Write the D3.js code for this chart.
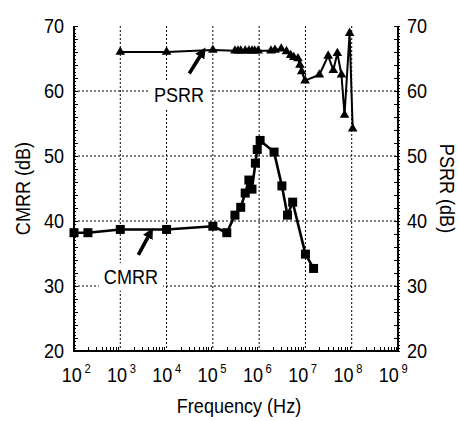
<!DOCTYPE html>
<html><head><meta charset="utf-8">
<script src="https://cdn.jsdelivr.net/npm/d3@7"></script>
<style>
html,body{margin:0;padding:0;background:#fff;}
svg{display:block;font-family:"Liberation Sans",Arial,sans-serif;}
</style></head>
<body><svg id="c" width="459" height="421"></svg>
<script>
// ---- data ----
const cmrrFreq = [1e2, 2e2, 1e3, 1e4, 1e5, 2e5, 3e5, 4e5, 5e5, 6e5, 7e5, 8.3e5, 9.1e5, 1.05e6, 2.1e6, 3.1e6, 4.1e6, 5.3e6, 1e7, 1.5e7];
const cmrrDb   = [38.2, 38.2, 38.7, 38.7, 39.2, 38.2, 40.9, 42.1, 44.3, 46.3, 44.9, 48.9, 51.0, 52.4, 50.6, 45.4, 40.9, 42.9, 34.9, 32.7];
const psrrFreq = [1e3, 1e4, 1e5, 3e5, 3.5e5, 4e5, 5e5, 6e5, 7e5, 8e5, 9.5e5, 1.8e6, 2.2e6, 3e6, 3.9e6, 4.8e6, 5.6e6, 6.9e6, 7.6e6, 8.3e6, 9.8e6, 2e7, 3.1e7, 4e7, 4.9e7, 6e7, 7e7, 9e7, 1.05e8];
const psrrDb   = [66.0, 66.0, 66.3, 66.2, 66.2, 66.2, 66.2, 66.2, 66.2, 66.2, 66.2, 66.2, 66.3, 66.5, 66.1, 65.5, 65.2, 65.0, 64.0, 63.0, 61.6, 62.5, 65.4, 63.2, 65.8, 62.5, 56.3, 68.9, 54.2];
const xTickExps = [2, 3, 4, 5, 6, 7, 8, 9];
const yTicks = [20, 30, 40, 50, 60, 70];
const xLabel = "Frequency (Hz)";
const yLabelLeft = "CMRR (dB)";
const yLabelRight = "PSRR (dB)";
// annotations in data space: [freq, dB]
const psrrText = [Math.pow(10, 4.27), 59.5];
const psrrArrow = [[Math.pow(10, 4.49), 62.7], [Math.pow(10, 4.78), 66.0]];
const cmrrText = [Math.pow(10, 3.23), 31.4];
const cmrrArrow = [[Math.pow(10, 3.39), 34.8], [Math.pow(10, 3.65), 38.2]];

// ---- layout ----
const L = 74, R = 398, T = 26, B = 351;
const svg = d3.select("#c");
const x = d3.scaleLog().domain([1e2, 1e9]).range([L, R]);
const y = d3.scaleLinear().domain([20, 70]).range([B, T]);
const FS = 21, SX = 0.86;

function txt(px, py, str, anchor, rot) {
  const t = svg.append("text")
    .attr("transform", `translate(${px},${py})` + (rot ? ` rotate(${rot})` : "") + ` scale(${SX},1)`)
    .attr("text-anchor", anchor).attr("font-size", FS).text(str);
  return t;
}

// gridlines
const g = svg.append("g").attr("stroke", "#000").attr("stroke-width", 1).attr("stroke-dasharray", "2,2");
xTickExps.filter(e => e > 2 && e < 9).forEach(e => {
  g.append("line").attr("x1", x(Math.pow(10, e))).attr("x2", x(Math.pow(10, e))).attr("y1", T).attr("y2", B);
});
yTicks.filter(v => v > 20 && v < 70).forEach(v => {
  g.append("line").attr("x1", L).attr("x2", R).attr("y1", y(v)).attr("y2", y(v));
});

// axes lines and ticks
const ax = svg.append("g").attr("stroke", "#000").attr("stroke-width", 1.2).attr("shape-rendering", "crispEdges");
ax.append("line").attr("x1", L).attr("x2", L).attr("y1", T).attr("y2", B);
ax.append("line").attr("x1", R).attr("x2", R).attr("y1", T).attr("y2", B);
ax.append("line").attr("x1", L).attr("x2", R).attr("y1", B).attr("y2", B);
const tk = svg.append("g").attr("stroke", "#000").attr("stroke-width", 1).attr("shape-rendering", "crispEdges");
for (let v = 20; v <= 70; v += 0.5) {
  const yy = Math.round(y(v)) + 0.5;
  const isMid = (v % 2 === 0);
  const len = isMid ? 4 : 1.5;
  tk.append("line").attr("x1", L - 1.5).attr("x2", L + len).attr("y1", yy).attr("y2", yy);
  tk.append("line").attr("x1", R - len).attr("x2", R + 1.5).attr("y1", yy).attr("y2", yy);
}
for (let e = 2; e < 9; e++) {
  for (let m = 2; m <= 9; m++) {
    const xx = Math.round(x(m * Math.pow(10, e))) + 0.5;
    tk.append("line").attr("x1", xx).attr("x2", xx).attr("y1", B).attr("y2", B - 4);
  }
}

// tick labels
yTicks.forEach(v => {
  txt(L - 10, y(v) + 7, v, "end");
  txt(R + 9, y(v) + 7, v, "start");
});
xTickExps.forEach((e, i) => {
  const t = svg.append("text")
    .attr("transform", `translate(${x(Math.pow(10, e)) + 2.2 - i * 1.0},382) scale(${SX},1)`)
    .attr("text-anchor", "middle").attr("font-size", FS);
  t.append("tspan").text("10");
  t.append("tspan").attr("dx", 3).attr("dy", -9).attr("font-size", 13).text(e);
});

// axis titles
txt((L + R) / 2 + 3, 413, xLabel, "middle");
txt(30, (T + B) / 2, yLabelLeft, "middle", -90);
txt(440, (T + B) / 2, yLabelRight, "middle", 90);

// annotation labels with white background
function boxLabel(pos, str) {
  const px = x(pos[0]), py = y(pos[1]);
  const rect = svg.append("rect").attr("fill", "#fff");
  const t = txt(px, py + 7.5, str, "middle");
  const bb = t.node().getBBox();
  const w = bb.width * SX;
  rect.attr("x", px - w / 2 - 5).attr("y", py + 7.5 + bb.y - 2).attr("width", w + 10).attr("height", bb.height + 4);
}
boxLabel(psrrText, "PSRR");
boxLabel(cmrrText, "CMRR");

svg.append("defs").append("marker").attr("id", "ah").attr("viewBox", "0 0 10 10").attr("refX", 5).attr("refY", 5)
  .attr("markerWidth", 3).attr("markerHeight", 3).attr("orient", "auto")
  .append("path").attr("d", "M0,0 L10,5 L0,10 z").attr("fill", "#000");
[psrrArrow, cmrrArrow].forEach(a => {
  svg.append("line").attr("x1", x(a[0][0])).attr("y1", y(a[0][1])).attr("x2", x(a[1][0])).attr("y2", y(a[1][1]))
    .attr("stroke", "#000").attr("stroke-width", 3.6).attr("marker-end", "url(#ah)");
});

// series
const cmrr = cmrrFreq.map((f, i) => [f, cmrrDb[i]]);
const psrr = psrrFreq.map((f, i) => [f, psrrDb[i]]);
const line = d3.line().x(d => x(d[0])).y(d => y(d[1]));
svg.append("path").datum(psrr).attr("d", line).attr("fill", "none").attr("stroke", "#000").attr("stroke-width", 2).attr("stroke-linejoin", "round");
svg.append("path").datum(cmrr).attr("d", line).attr("fill", "none").attr("stroke", "#000").attr("stroke-width", 2.6).attr("stroke-linejoin", "round");
svg.append("g").selectAll("path").data(psrr).join("path")
  .attr("d", d3.symbol().type(d3.symbolTriangle).size(40))
  .attr("transform", d => `translate(${x(d[0])},${y(d[1])})`).attr("fill", "#000");
svg.append("g").selectAll("rect").data(cmrr).join("rect")
  .attr("x", d => x(d[0]) - 4.5).attr("y", d => y(d[1]) - 4.5).attr("width", 9).attr("height", 9).attr("fill", "#000");
</script></body></html>
